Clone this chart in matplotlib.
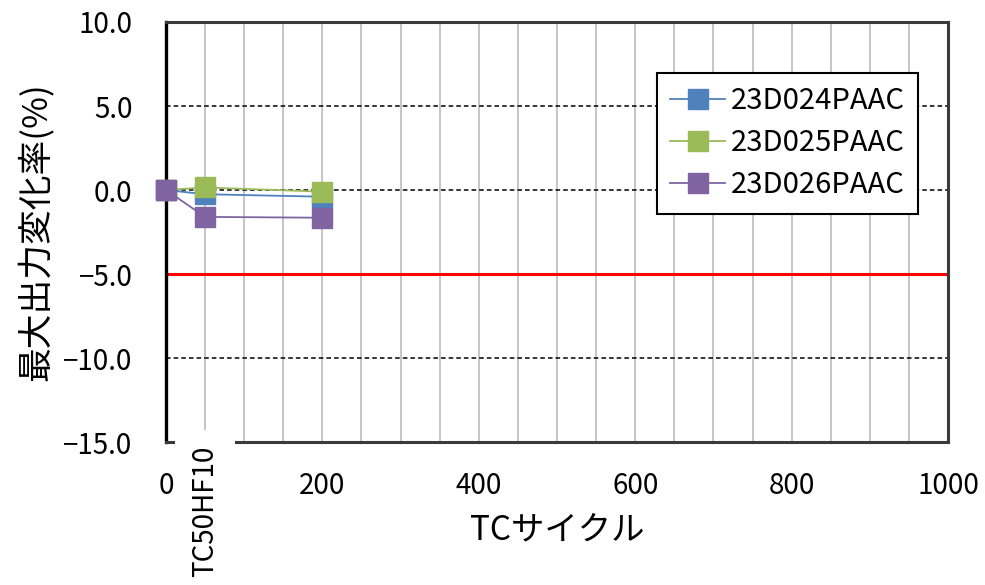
#!/usr/bin/env python3

import matplotlib as mpl
import matplotlib.pyplot as plt
import matplotlib.transforms as mtransforms
import numpy as np

plt.rcParams['font.family'] = ['Noto Sans CJK JP', 'DejaVu Sans']

# TC cycles and max power change (%)
cycles = [0, 50, 200]
s_024 = [0.0, -0.25, -0.4]
s_025 = [0.0, 0.15, -0.1]
s_026 = [0.0, -1.6, -1.65]
names = ["23D024PAAC", "23D025PAAC", "23D026PAAC"]
colors = ["#4f81bd", "#9bbb59", "#8064a2"]

limit = -5.0
xticks = [0, 200, 400, 600, 800, 1000]
yticks = [-15, -10, -5, 0, 5, 10]
step_label = "TC50HF10"
step_x = 50

fig = plt.figure(figsize=(9.85, 5.85), dpi=100)
ax = fig.add_axes([0.1685, 0.2444, 0.794, 0.718])

ax.set_xlim(0, 1000)
ax.set_ylim(-15, 10)
ax.set_xticks(xticks)
ax.set_xticks(np.arange(0, 1001, 50), minor=True)
ax.set_yticks(yticks)
ax.set_yticklabels([f"{v:.1f}".replace("-", "\u2212") for v in yticks])

ax.grid(axis='x', which='both', color='#c0c0c0', lw=1.3, zorder=0)
ax.grid(axis='y', which='major', color='black', lw=1.1, ls=(0, (3, 2)), zorder=0)
ax.set_axisbelow(True)

ax.tick_params(axis='both', which='both', length=0, labelsize=20)
ax.tick_params(axis='x', pad=21)
ax.tick_params(axis='y', pad=24)

for side in ['top', 'right', 'bottom']:
    ax.spines[side].set_color('#3a3a3a')
    ax.spines[side].set_linewidth(2.2)
ax.spines['left'].set_color('black')
ax.spines['left'].set_linewidth(2.4)

ax.axhline(limit, color='#ff0000', lw=2.2, zorder=1)

for ys, name, c in zip([s_024, s_025, s_026], names, colors):
    ax.plot(cycles, ys, color=c, lw=1.3, marker='s', markersize=14,
            markeredgecolor=c, label=name, zorder=3, clip_on=False)

leg = ax.legend(loc='upper right', bbox_to_anchor=(0.962, 0.879),
                borderaxespad=0, fontsize=21, fancybox=False, framealpha=1,
                edgecolor='black', handlelength=1.9, labelspacing=0.42,
                borderpad=0.45, handletextpad=0.2, markerscale=1.0)
leg.get_frame().set_linewidth(1.5)
leg.set_zorder(4)

ax.set_xlabel("TCサイクル", fontsize=24, labelpad=8)
ax.set_ylabel("最大出力変化率(%)", fontsize=25, labelpad=6)

trans = mtransforms.blended_transform_factory(ax.transData, ax.transAxes)
ax.text(step_x, -0.008, step_label, transform=trans, rotation=90,
        ha='center', va='top', fontsize=20, clip_on=False, zorder=5,
        bbox=dict(facecolor='white', edgecolor='none', pad=11))

fig.savefig("out.png", dpi=100)
